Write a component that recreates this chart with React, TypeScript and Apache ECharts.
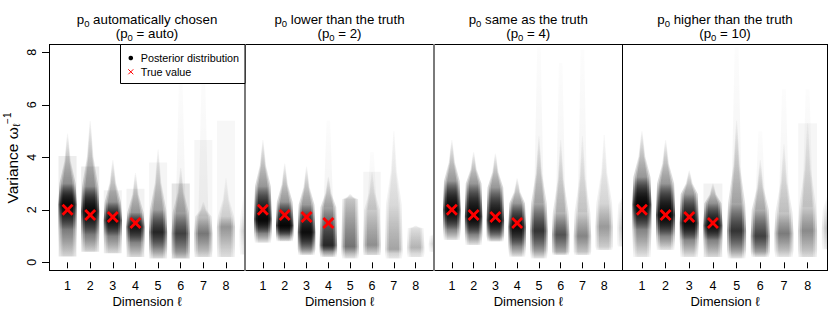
import React, { useEffect, useRef } from 'react';
import * as echarts from 'echarts';

const dims = [1, 2, 3, 4, 5, 6, 7, 8];
const yTicks = [0, 2, 4, 6, 8];
const trueValues = [2.0, 1.8, 1.73, 1.5];
const panelTitles = ['automatically chosen', 'lower than the truth', 'same as the truth', 'higher than the truth'];
const panelP0 = ['auto', '2', '4', '10'];

// Posterior summaries per dimension (dims 1..9, dim 9 clipped at panel edge)
// columns: tip, top, mid, low, bottom, darkness, boxTop, boxAlpha, tailTop
const postAuto = [
  [4.9, 3.0, 2.2, 1.25, 0.22, 0.97, 4.05, 0.07, 0],
  [5.4, 2.9, 1.95, 1.05, 0.4, 0.97, 3.65, 0.07, 0],
  [3.9, 2.3, 1.6, 1.0, 0.35, 0.95, 2.75, 0.05, 0],
  [3.4, 1.9, 1.35, 0.75, 0.2, 0.92, 2.8, 0.05, 0],
  [4.3, 2.0, 1.15, 0.5, 0.15, 0.85, 3.8, 0.04, 0],
  [3.6, 1.9, 1.1, 0.4, 0.15, 0.72, 3.0, 0.1, 6.9],
  [2.3, 1.75, 1.1, 0.45, 0.2, 0.52, 4.66, 0.035, 7.0],
  [3.2, 1.75, 1.35, 0.6, 0.2, 0.4, 5.4, 0.03, 0],
  [4.3, 1.8, 1.2, 0.6, 0.3, 0.22, 0, 0, 0],
];
const postLower = [
  [4.66, 2.9, 1.65, 1.1, 0.75, 0.98, 0, 0, 0],
  [3.77, 2.3, 1.4, 1.0, 0.8, 0.98, 0, 0, 0],
  [3.64, 2.2, 1.15, 0.5, 0.28, 0.95, 0, 0, 0],
  [3.26, 2.1, 0.65, 0.4, 0.2, 0.85, 0, 0, 5.4],
  [2.6, 2.4, 0.6, 0.34, 0.15, 0.55, 0, 0, 0],
  [3.45, 2.0, 0.66, 0.4, 0.28, 0.42, 3.45, 0.04, 4.2],
  [5.0, 2.2, 0.5, 0.34, 0.15, 0.36, 0, 0, 0],
  [1.4, 1.3, 0.56, 0.34, 0.2, 0.3, 0, 0, 0],
  [1.2, 1.0, 0.7, 0.5, 0.4, 0.18, 0, 0, 0],
];
const postSame = [
  [4.66, 3.1, 2.0, 1.25, 0.85, 0.98, 0, 0, 0],
  [4.2, 3.0, 1.75, 1.05, 0.66, 0.98, 0, 0, 0],
  [4.15, 2.85, 1.6, 1.0, 0.79, 0.97, 0, 0, 0],
  [3.2, 2.25, 1.35, 0.6, 0.21, 0.95, 0, 0, 0],
  [4.8, 2.25, 1.2, 0.45, 0.15, 0.8, 0, 0, 8.2],
  [4.66, 1.9, 1.05, 0.4, 0.28, 0.68, 0, 0, 7.6],
  [4.8, 1.9, 1.0, 0.4, 0.28, 0.48, 0, 0, 8.1],
  [4.85, 2.25, 1.35, 0.6, 0.47, 0.4, 0, 0, 0],
  [3.0, 2.2, 1.3, 0.7, 0.6, 0.22, 0, 0, 6.4],
];
const postHigher = [
  [5.0, 3.25, 2.2, 1.25, 0.2, 0.98, 0, 0, 0],
  [4.66, 3.0, 1.8, 1.0, 0.47, 0.98, 0, 0, 0],
  [3.5, 2.6, 1.5, 0.85, 0.2, 0.96, 0, 0, 0],
  [3.0, 2.25, 1.4, 0.85, 0.2, 0.95, 3.0, 0.05, 0],
  [5.4, 2.25, 1.2, 0.47, 0.15, 0.8, 0, 0, 8.2],
  [3.9, 2.0, 1.0, 0.4, 0.2, 0.75, 0, 0, 5.0],
  [4.5, 1.9, 1.1, 0.45, 0.2, 0.52, 0, 0, 6.6],
  [5.3, 2.1, 1.2, 0.45, 0.2, 0.44, 5.3, 0.035, 6.6],
  [3.4, 2.0, 1.3, 0.7, 0.5, 0.26, 0, 0, 0],
];
const panelData = [postAuto, postLower, postSame, postHigher];

const FONT = '"Liberation Sans", Arial, Helvetica, sans-serif';
const PANEL_LEFT = [49, 245, 434, 622.5];
const PANEL_WIDTH = [196, 189, 188.5, 205];
const GRID_TOP = 44;
const GRID_H = 227;

const rgba = (a: number) => `rgba(0,0,0,${Math.max(0, Math.min(1, a)).toFixed(3)})`;

function renderPosterior(params: any, api: any) {
  const x = api.value(0);
  const tip = api.value(1), top = api.value(2), mid = api.value(3), low = api.value(4), bottom = api.value(5);
  const dark = api.value(6), boxTop = api.value(7), boxA = api.value(8), tail = api.value(9);
  const cx = api.coord([x, 0])[0];
  const hw = api.size([1, 0])[0] * 0.4;
  const Y = (v: number) => api.coord([x, v])[1];
  const yTip = Y(tip), yTop = Y(top), yMid = Y(mid), yLow = Y(low), yBot = Y(bottom);
  const children: any[] = [];
  if (boxTop > 0 && boxA > 0) {
    children.push({
      type: 'rect',
      shape: { x: cx - hw, y: Y(boxTop), width: 2 * hw, height: yBot - Y(boxTop) },
      style: { fill: rgba(boxA) },
    });
  }
  if (tail > 0) {
    children.push({
      type: 'polygon',
      shape: { points: [[cx - 0.55 * hw, yTop], [cx - 0.2 * hw, Y(tail)], [cx + 0.2 * hw, Y(tail)], [cx + 0.55 * hw, yTop]] },
      style: {
        fill: new echarts.graphic.LinearGradient(0, 0, 0, 1, [
          { offset: 0, color: rgba(0.012) },
          { offset: 1, color: rgba(0.05) },
        ]),
      },
    });
  }
  const H = Math.max(1, yBot - yTip);
  const off = (y: number) => Math.max(0, Math.min(1, (y - yTip) / H));
  const factors = [1, 0.8, 0.6];
  const la = (t: number) => 1 - Math.pow(1 - Math.min(t, 0.985), 1 / factors.length);
  factors.forEach((f) => {
    const w = f * hw;
    const yNeck = yTop + 0.45 * (yTip - yTop);
    const left = [
      [cx - w * 0.92, yBot],
      [cx - w, yLow],
      [cx - w, yMid],
      [cx - w * 0.9, yTop],
      [cx - w * 0.35, yNeck],
      [cx - Math.max(0.4, w * 0.06), yTip],
    ];
    const right = left.slice().reverse().map((p) => [2 * cx - p[0], p[1]]);
    const stops = [
      { offset: 0, color: rgba(la(0.03)) },
      { offset: off(yTop), color: rgba(la(dark * 0.42)) },
      { offset: Math.max(off(yTop), off(yMid)), color: rgba(la(dark)) },
      { offset: Math.max(off(yMid), off(yLow)), color: rgba(la(dark * 0.5)) },
      { offset: 1, color: rgba(la(0.1)) },
    ];
    children.push({
      type: 'polygon',
      shape: { points: left.concat(right) },
      style: { fill: new echarts.graphic.LinearGradient(0, 0, 0, 1, stops) },
    });
  });
  return { type: 'group', children };
}

function renderCross(params: any, api: any) {
  const p = api.coord([api.value(0), api.value(1)]);
  const s = 5;
  const st = { stroke: '#ff0000', lineWidth: 2.8 };
  return {
    type: 'group',
    children: [
      { type: 'line', shape: { x1: p[0] - s, y1: p[1] - s, x2: p[0] + s, y2: p[1] + s }, style: st },
      { type: 'line', shape: { x1: p[0] - s, y1: p[1] + s, x2: p[0] + s, y2: p[1] - s }, style: st },
    ],
  };
}

export default function App() {
  const ref = useRef<HTMLDivElement>(null);
  useEffect(() => {
    if (!ref.current) return;
    const chart = echarts.init(ref.current, undefined, { renderer: 'svg' });
    const idx = [0, 1, 2, 3];
    const grid = idx.map((i) => ({ left: PANEL_LEFT[i], top: GRID_TOP, width: PANEL_WIDTH[i], height: GRID_H, show: false }));
    const xAxis = idx.map((i) => ({
      type: 'value',
      gridIndex: i,
      min: 0.18,
      max: 8.84,
      axisLine: { show: false },
      axisTick: { show: true, customValues: dims, length: 6, lineStyle: { color: '#000' } },
      axisLabel: { customValues: dims, fontSize: 12.5, color: '#000', margin: 8, fontFamily: FONT },
      splitLine: { show: false },
    }));
    const yAxis = idx.map((i) => ({
      type: 'value',
      gridIndex: i,
      min: -0.33,
      max: 8.32,
      show: i === 0,
      axisLine: { show: false },
      axisTick: { show: true, customValues: yTicks, length: 7, lineStyle: { color: '#000' } },
      axisLabel: { customValues: yTicks, rotate: 90, fontSize: 12.5, color: '#000', margin: 11, fontFamily: FONT },
      splitLine: { show: false },
    }));
    const series: any[] = [];
    idx.forEach((i) => {
      series.push({
        type: 'custom',
        xAxisIndex: i,
        yAxisIndex: i,
        clip: true,
        renderItem: renderPosterior,
        data: panelData[i].map((r, k) => [k + 1, ...r]),
        silent: true,
      });
      series.push({
        type: 'custom',
        xAxisIndex: i,
        yAxisIndex: i,
        renderItem: renderCross,
        data: trueValues.map((v, k) => [k + 1, v]),
        z: 5,
        silent: true,
      });
    });

    const graphic: any[] = [];
    const line = (x1: number, y1: number, x2: number, y2: number, color: string, lw: number) => ({
      type: 'line', z: 50, shape: { x1, y1, x2, y2 }, style: { stroke: color, lineWidth: lw },
    });
    graphic.push(line(49, 44.5, 828, 44.5, '#000', 1));
    graphic.push(line(49, 270.5, 828, 270.5, '#000', 1));
    graphic.push(line(49.5, 44, 49.5, 271, '#000', 1));
    graphic.push(line(245, 44, 245, 271, '#7a7a7a', 2));
    graphic.push(line(434, 44, 434, 271, '#7a7a7a', 2));
    graphic.push(line(622.5, 44, 622.5, 271, '#000', 1));
    graphic.push(line(827.5, 44, 827.5, 271, '#000', 1));

    const rich = {
      n: { fontSize: 13.3, fontFamily: FONT, fill: '#000', color: '#000', lineHeight: 16 },
      s: { fontSize: 9.5, fontFamily: FONT, fill: '#000', color: '#000', lineHeight: 11, padding: [8, 0, 0, 0] },
    };
    idx.forEach((i) => {
      const cx = PANEL_LEFT[i] + PANEL_WIDTH[i] / 2;
      graphic.push({
        type: 'text', z: 60, x: cx, y: 19,
        style: { text: `{n|p}{s|0}{n| ${panelTitles[i]}}`, rich, align: 'center', verticalAlign: 'middle' },
      });
      graphic.push({
        type: 'text', z: 60, x: cx, y: 33.5,
        style: { text: `{n|(p}{s|0}{n| = ${panelP0[i]})}`, rich, align: 'center', verticalAlign: 'middle' },
      });
      graphic.push({
        type: 'text', z: 60, x: cx, y: 301.5,
        style: { text: 'Dimension ℓ', fontSize: 13, fontFamily: FONT, fill: '#000', align: 'center', verticalAlign: 'middle' },
      });
    });

    graphic.push({
      type: 'text', z: 60, x: 12, y: 158, rotation: Math.PI / 2,
      style: {
        text: '{n|Variance ω}{s|ℓ}{p|−1}',
        rich: {
          n: { fontSize: 15.5, fontFamily: FONT, fill: '#000', lineHeight: 18 },
          s: { fontSize: 10, fontFamily: FONT, fill: '#000', lineHeight: 11, padding: [9, 0, 0, 0] },
          p: { fontSize: 10, fontFamily: FONT, fill: '#000', lineHeight: 11, padding: [0, 0, 9, 0] },
        },
        align: 'center', verticalAlign: 'middle',
      },
    });

    // legend
    graphic.push({
      type: 'rect', z: 70, shape: { x: 120.5, y: 44.5, width: 124.5, height: 39 },
      style: { fill: '#fff', stroke: '#000', lineWidth: 1 },
    });
    graphic.push({ type: 'circle', z: 71, shape: { cx: 130.8, cy: 58, r: 2.3 }, style: { fill: '#000' } });
    graphic.push({ type: 'line', z: 71, shape: { x1: 128.3, y1: 69.3, x2: 133.3, y2: 74.3 }, style: { stroke: '#ff0000', lineWidth: 1 } });
    graphic.push({ type: 'line', z: 71, shape: { x1: 128.3, y1: 74.3, x2: 133.3, y2: 69.3 }, style: { stroke: '#ff0000', lineWidth: 1 } });
    graphic.push({
      type: 'text', z: 71, x: 140.7, y: 58,
      style: { text: 'Posterior distribution', fontSize: 10.8, fontFamily: FONT, fill: '#000', align: 'left', verticalAlign: 'middle' },
    });
    graphic.push({
      type: 'text', z: 71, x: 140.7, y: 72,
      style: { text: 'True value', fontSize: 10.8, fontFamily: FONT, fill: '#000', align: 'left', verticalAlign: 'middle' },
    });

    chart.setOption({
      animation: false,
      backgroundColor: '#fff',
      textStyle: { fontFamily: FONT },
      grid,
      xAxis,
      yAxis,
      series,
      graphic,
    });
    return () => chart.dispose();
  }, []);
  return <div ref={ref} style={{ width: 830, height: 332, position: 'absolute', left: 0, top: 0 }} />;
}
